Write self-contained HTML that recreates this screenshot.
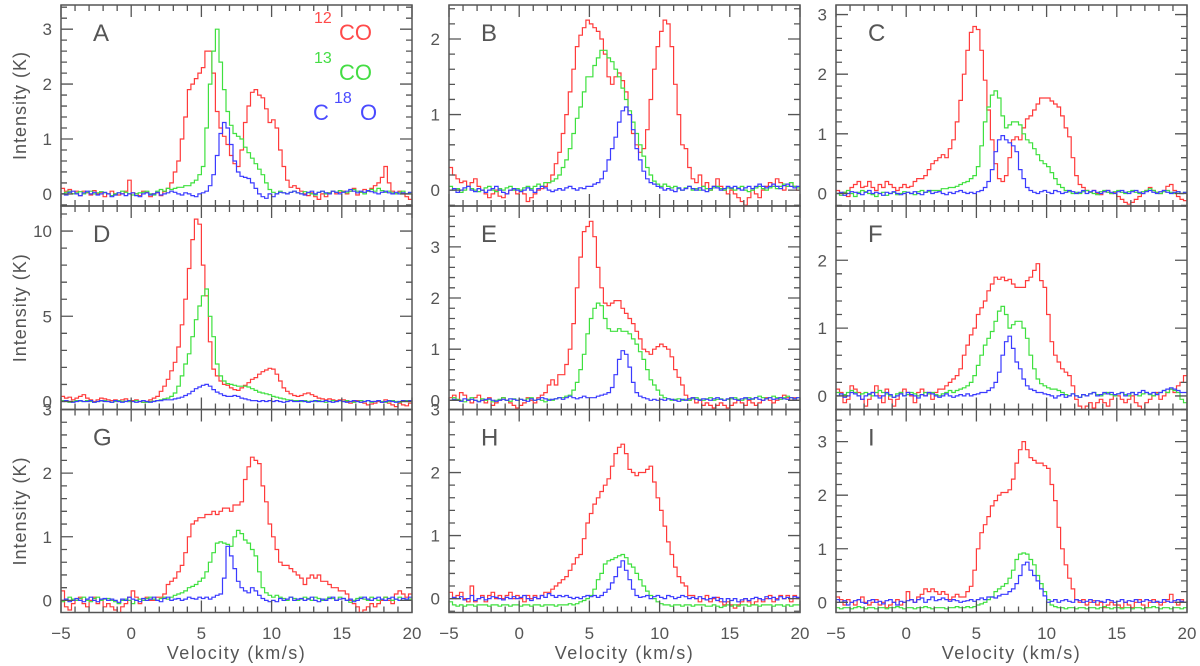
<!DOCTYPE html>
<html><head><meta charset="utf-8"><style>
html,body{margin:0;padding:0;background:#fff;}
svg{display:block;font-family:"Liberation Sans",sans-serif;}
</style></head><body>
<svg id="chart" width="1200" height="666" viewBox="0 0 1200 666" xmlns="http://www.w3.org/2000/svg">
<g id="marks"></g>
<g id="frames"></g>
<g id="labels"></g>
</svg>
<script>
// velocity axis: 100 channels of 0.25 km/s from -5 to 20
const vStart=-5, vStep=0.25;
const xTicks=[-5,0,5,10,15,20];
const xTickLabels=["\u22125","0","5","10","15","20"];
const panelLetters=["A","B","C","D","E","F","G","H","I"];
const yMins=[-0.22,-0.21,-0.21,-0.47,-0.18,-0.2,-0.19,-0.22,-0.19];
const yMaxs=[3.44,2.45,3.16,11.47,3.8,2.8,3.0,3.0,3.6];
const yMajor=[1,1,1,5,1,1,1,1,1];
const yMinor=[0.2,0.2,0.2,1,0.2,0.2,0.2,0.2,0.2];

const redA=[.1,.05,.08,0,.05,-.03,.05,.02,-.02,.06,0,.03,-.05,0,.05,0,-.02,0,.05,.25,
.02,0,-.03,.05,.03,-.05,0,.02,-.03,.04,.1,.2,.4,.6,1.0,1.4,1.9,2.0,2.1,2.2,
2.3,2.6,2.6,2.2,1.5,1.2,1.05,.9,.7,.55,.5,.8,1.3,1.6,1.85,1.9,1.8,1.75,1.55,1.3,
1.35,1.2,.8,.5,.25,.12,.15,.1,.05,0,-.03,.02,-.05,-.1,0,-.05,.02,.05,0,.03,
.05,0,.05,.1,-.02,.03,.08,.05,.1,.15,.2,.3,.5,.2,.05,0,.05,0,-.05,-.1];
const greenA=[0,.03,.05,0,.02,.04,0,.03,.05,0,.02,.04,.02,0,-.03,0,.02,.05,.03,0,
-.02,0,.02,.03,.05,0,-.02,.05,.08,.05,.1,.08,.1,.12,.12,.15,.15,.2,.25,.35,
.5,1.2,2.0,2.6,3.0,2.4,1.9,1.5,1.25,1.1,1.05,1.0,.85,.75,.65,.55,.45,.35,.2,.08,
.03,0,.05,.02,0,.03,.05,.02,0,.04,.02,0,-.02,.03,.05,0,.02,.05,.03,.06,
.04,.02,.05,.08,.05,.03,0,.05,.08,.05,.1,.06,.03,.05,.02,0,.03,.05,0,.02];
const blueA=[0,-.02,.03,.05,0,-.03,.02,.05,0,.03,-.02,0,.03,0,-.05,-.02,.02,0,-.03,0,
.02,-.03,-.05,0,.02,-.02,0,.03,-.02,0,.02,.05,.03,0,-.02,.02,0,-.03,-.05,0,
.02,.05,.15,.35,.7,1.1,1.3,1.2,.9,.6,.4,.32,.3,.28,.2,.1,0,-.05,-.08,0,
-.05,0,.03,.02,0,.03,.05,.02,0,-.02,.03,.05,0,.03,.05,.02,0,.05,.03,0,
.03,.05,.08,.05,.02,.05,.03,.06,.04,.02,0,.03,.05,.02,0,.03,0,.02,0,.03];

const redB=[.3,.2,.15,.1,.12,.05,.1,.15,.05,0,-.05,-.1,-.05,0,-.08,-.1,-.05,0,.02,-.05,
0,-.05,-.15,-.1,-.05,0,.02,.05,.1,.2,.35,.5,.75,1.0,1.3,1.6,1.9,2.05,2.15,2.25,
2.2,2.15,2.1,2.0,1.8,1.5,1.4,1.5,1.55,1.45,1.3,1.0,.75,.6,.5,.55,.8,1.2,1.6,1.9,
2.1,2.25,2.2,1.9,1.4,1.0,.6,.55,.3,.15,.1,.2,.05,.1,0,.05,.15,.05,0,-.05,
0,-.05,-.1,-.15,-.2,-.1,0,-.05,-.1,0,.05,.1,.05,.15,.1,0,.05,.1,.05,0];
const greenB=[.05,0,.02,-.03,0,.05,.02,0,-.02,0,.03,.05,0,-.02,.02,0,.03,.05,0,.02,
0,.03,.05,.02,.05,.08,.05,.1,.1,.12,.15,.2,.3,.4,.55,.75,.95,1.1,1.3,1.5,
1.5,1.65,1.75,1.85,1.85,1.75,1.7,1.6,1.5,1.35,1.2,1.05,.9,.75,.6,.45,.3,.2,.12,.08,
.05,.08,.05,.03,.05,.02,0,.03,.05,0,.02,0,.05,.02,0,.03,.05,.02,0,.03,
.02,0,.03,.05,0,-.02,0,.03,.05,.02,0,.03,.05,.02,.05,.08,.05,.1,.05,.03];
const blueB=[0,.02,-.03,0,.03,.05,0,-.02,.02,0,-.03,0,.02,.05,0,-.03,-.05,0,.02,0,
-.02,0,.03,0,-.03,.02,.05,.03,0,-.02,0,.02,0,.03,.05,.02,0,.03,.02,.05,
.05,.08,.1,.15,.25,.4,.55,.7,.9,1.05,1.1,1.0,.8,.55,.4,.25,.15,.1,.08,.05,
.03,0,.02,0,-.02,.03,0,.02,.05,.02,0,.03,0,-.02,.02,.05,.03,0,.02,.05,
.03,.05,.02,0,.03,.05,.02,.05,.08,.05,.03,.05,.08,.05,.02,.06,.08,.05,.03,.05];

const redC=[.05,0,.02,-.05,.1,.15,.2,.1,.12,.2,.1,.05,.15,.1,.2,.15,.1,.05,.1,.15,
.1,.12,.2,.25,.25,.3,.4,.5,.55,.6,.65,.6,.75,.9,1.2,1.56,2.0,2.4,2.7,2.8,
2.75,2.4,1.9,1.4,.9,.5,.25,.2,.3,.6,.9,.95,.9,1.1,1.25,1.3,1.4,1.5,1.6,1.6,
1.6,1.55,1.5,1.45,1.3,1.1,.95,.6,.3,.15,.1,.05,.02,.05,0,-.02,.03,.05,0,.02,
-.05,-.1,-.15,-.18,-.15,-.1,-.05,0,.05,.1,.05,.02,0,.05,.12,.15,.05,-.05,-.1,-.12];
const greenC=[0,-.03,.02,.05,0,-.05,.02,.05,.03,0,-.02,-.05,0,.02,-.03,0,.02,-.02,0,.03,
.02,0,-.02,.03,.05,.02,.03,.05,.05,.05,.08,.08,.1,.1,.12,.15,.18,.2,.25,.3,
.45,.8,1.2,1.45,1.65,1.72,1.6,1.3,1.1,1.15,1.2,1.2,1.15,1.0,.9,.85,.75,.65,.55,.5,
.45,.35,.25,.15,.1,.05,.03,0,.02,0,.03,.05,.02,0,-.02,.03,.05,.02,0,.03,
.05,.02,0,.03,.05,.02,0,.03,.05,.08,.05,.02,0,.03,.05,.02,0,.03,0,.02];
const blueC=[0,.02,-.03,0,.03,.02,0,-.02,.02,.05,0,.02,0,-.03,.02,0,.03,0,-.02,0,
.02,0,.03,0,-.02,.02,.05,0,.02,.03,0,-.02,.02,0,.03,.05,.02,0,.02,0,
.03,.05,.1,.2,.4,.7,.9,.97,.9,.85,.8,.7,.4,.25,.1,.05,.02,0,.03,.05,
.02,0,.05,.03,0,.02,.05,.03,0,.02,.05,0,.03,.05,.02,0,.03,.05,.02,0,
.03,.05,.02,0,.03,.05,.02,0,.03,.05,.02,0,.03,.05,.02,0,.02,.03,0,.02];

const redD=[.3,.2,.25,.1,.2,.3,.4,.2,.1,0,.1,.2,.15,.1,.05,.1,0,.1,.15,0,
.05,.1,0,-.05,0,.1,.2,.3,.6,.9,1.3,1.8,2.3,3.2,4.5,6.0,7.8,9.5,10.7,10.4,
8.0,6.2,3.5,1.9,1.5,1.2,1.0,.95,.8,.7,.65,.8,.95,1.1,1.3,1.4,1.6,1.75,1.85,1.95,
1.9,1.6,1.2,.8,.6,.45,.35,.3,.35,.45,.5,.4,.3,.2,.15,.1,.15,.1,.05,.1,
.1,0,-.1,0,.05,-.05,-.1,-.2,-.15,-.1,0,-.05,.1,-.1,-.2,-.3,-.1,-.2,-.25,-.1];
const greenD=[.05,0,-.05,0,.05,.02,0,.05,0,-.05,0,.03,.05,0,-.05,0,.05,0,.02,0,
0,.05,0,-.05,-.05,0,.02,.05,.1,.15,.2,.3,.5,.9,1.5,2.2,2.8,3.8,4.8,5.6,
6.2,6.6,5.0,3.8,2.2,1.5,1.2,1.05,1.0,.95,.9,.9,.9,.85,.75,.65,.55,.5,.45,.4,
.3,.25,.2,.15,.1,.08,.05,.05,0,.05,0,.02,0,.05,0,-.05,0,.05,0,.05,
0,.05,0,-.05,0,.05,0,.05,-.05,0,.05,0,-.05,0,.05,0,-.05,0,.05,0];
const blueD=[0,.05,0,-.05,0,.05,0,0,.05,-.05,0,.05,0,0,-.05,.05,0,-.05,0,.05,
0,-.05,0,.05,0,-.05,0,.05,.05,.1,.1,.1,.15,.2,.25,.35,.45,.6,.75,.85,
.95,1.0,.9,.7,.55,.45,.35,.3,.3,.35,.3,.2,.15,.1,.05,.05,0,.05,0,.05,
0,.05,0,-.05,0,.05,0,0,.05,0,-.05,0,.05,0,0,.05,0,-.05,0,.05,
0,-.05,0,.05,0,-.05,0,.05,0,0,.05,-.05,0,.05,0,-.05,0,.05,0,.05];

const redE=[.05,.1,0,.15,.1,0,-.05,.05,.1,0,-.05,.05,-.1,-.05,0,.05,0,-.05,-.1,-.15,
-.1,-.05,.05,0,-.05,.05,.1,.15,.3,.4,.3,.5,.5,.7,1.0,1.5,2.2,2.8,3.3,3.4,
3.5,3.2,2.6,2.2,1.9,1.85,1.9,1.95,1.95,1.8,1.7,1.6,1.5,1.35,1.2,1.0,.95,.9,1.0,1.05,
1.1,1.05,1.0,.85,.6,.45,.3,.1,0,.05,-.05,0,-.1,-.05,-.1,-.15,-.1,-.05,-.1,-.15,
-.1,-.05,0,-.05,-.1,0,-.05,-.1,-.05,0,.05,0,-.05,0,.05,.1,.05,0,.05,0];
const greenE=[0,.05,.02,0,-.03,.02,.05,0,-.02,.03,0,.02,-.03,0,.02,.05,0,-.02,.03,0,
.02,0,.03,.05,0,.02,0,-.03,.02,0,.03,.05,.05,.08,.1,.2,.35,.6,.9,1.3,
1.6,1.8,1.9,1.85,1.6,1.4,1.35,1.35,1.4,1.35,1.35,1.3,1.2,1.1,.95,.8,.6,.4,.3,.2,
.1,.05,.03,0,.02,.03,0,.02,0,.03,.05,.02,0,.03,.05,0,.02,.03,0,.02,
.03,.05,.02,0,.03,.05,.02,.05,.08,.05,.03,.05,.08,.05,.02,.05,.08,.05,.03,.05];
const blueE=[0,.02,0,-.02,.03,0,.02,0,-.03,0,.02,.03,0,-.02,0,.02,0,.03,.02,0,
.02,0,-.02,.03,0,.02,.05,.03,0,.02,.03,.05,.02,.05,.08,.05,.03,.05,.08,.05,
.05,.05,.08,.1,.12,.15,.25,.5,.8,.97,.9,.65,.35,.15,.08,.05,.03,0,.02,0,
.02,0,.03,.02,0,-.02,.02,0,.03,.05,.02,0,.03,.02,0,.03,.05,.02,0,.03,
.05,.02,0,.03,.05,.02,.03,.05,.02,0,.03,.05,.02,.03,.05,.03,.02,.05,.03,.05];

const redF=[.1,.05,-.1,-.05,.15,.1,.05,-.05,-.15,-.05,.05,.15,0,-.1,.1,-.05,-.15,-.05,.05,.1,
.05,0,-.1,.05,.1,0,.05,-.05,.05,.1,.1,.15,.2,.25,.3,.4,.6,.75,.9,1.0,
1.2,1.3,1.4,1.55,1.65,1.75,1.72,1.75,1.7,1.72,1.65,1.6,1.6,1.6,1.7,1.75,1.85,1.95,1.7,1.6,
1.2,.8,.6,.5,.4,.35,.3,.15,-.05,-.15,-.2,-.15,-.1,-.18,-.1,-.05,-.1,-.15,-.05,0,
0,-.05,-.1,-.05,0,-.1,-.15,-.2,-.1,-.05,0,.05,-.05,0,.05,.1,.05,.15,.2,.3];
const greenF=[.05,0,.02,.05,.08,.05,0,.03,.05,.02,0,.05,.08,.05,.03,0,-.02,.03,.05,0,
.02,.05,.03,0,.02,.05,.03,.05,.02,0,.03,.05,.08,.05,.08,.1,.12,.15,.2,.3,
.45,.6,.75,.85,.95,1.1,1.25,1.32,1.2,1.0,1.05,1.1,1.1,1.0,.85,.6,.4,.25,.18,.15,
.12,.1,.1,.08,.05,.02,0,.03,0,-.02,.02,0,.03,.05,.02,0,.03,.05,.02,0,
.03,.05,.02,0,.05,.02,0,.03,.05,.02,0,.03,.05,.08,.05,.1,.08,.05,-.05,-.1];
const blueF=[0,.03,-.02,0,.05,.03,0,-.05,0,.03,.05,0,-.03,0,.05,.02,-.02,0,.03,0,
.05,.02,0,-.03,.02,0,.05,.03,0,-.02,0,.03,0,-.02,0,.02,0,.03,0,.02,
.03,.05,.05,.08,.12,.2,.35,.6,.8,.88,.7,.5,.4,.25,.15,.1,.08,.05,.05,.03,
.02,0,-.03,0,.02,-.02,0,.03,0,-.02,.02,0,.03,.05,0,.02,.05,.03,.05,.02,
.03,.05,0,.03,.05,.02,.05,.08,.05,.03,.05,.02,.05,.08,.1,.12,.1,.08,.05,.05];

const redG=[.15,-.1,-.15,-.05,0,.05,-.05,-.1,0,.05,-.05,0,-.1,-.05,-.1,-.15,-.2,-.1,-.05,.05,
.15,.05,-.05,0,.05,0,0,.05,.05,.1,.25,.3,.35,.45,.55,.75,1.0,1.2,1.25,1.3,
1.3,1.35,1.35,1.4,1.35,1.4,1.45,1.45,1.4,1.5,1.5,1.55,1.9,2.1,2.25,2.2,2.15,1.8,1.55,1.2,
1.0,.8,.6,.55,.55,.5,.45,.4,.35,.25,.35,.4,.35,.4,.3,.3,.25,.2,.2,.15,
.15,.1,0,-.05,-.1,-.2,-.15,-.1,-.05,-.1,-.05,0,.05,0,-.05,.1,.15,.1,.05,.1];
const greenG=[-.02,0,.05,.02,0,.03,.05,0,-.02,.03,.05,0,.02,.03,0,-.02,-.05,0,.02,0,
-.05,0,.02,0,.03,.05,.02,0,.03,.05,.02,.05,.08,.1,.12,.15,.2,.22,.25,.3,
.35,.45,.6,.75,.9,.92,.9,.88,.85,1.0,1.1,1.05,.95,.9,.8,.7,.45,.2,.12,.08,
.05,.08,.05,.03,0,.05,.03,0,.02,.05,.03,0,.05,.03,0,.02,.05,.03,0,.05,
.03,0,-.03,0,.03,.05,.02,0,.05,.03,0,.02,.05,.03,0,.02,.05,.03,0,.02];
const blueG=[0,.02,-.02,0,.03,0,-.02,.02,.05,0,-.02,.02,.03,0,.02,0,-.03,.02,0,.05,
.02,0,-.02,.03,0,.02,.05,0,-.02,.03,.05,0,.02,.03,0,.02,.05,.03,.02,.05,
.03,.05,.02,.05,.08,.1,.35,.85,.7,.5,.3,.2,.15,.12,.2,.15,.08,.03,0,-.02,
0,-.02,.03,0,.02,.05,0,.02,.03,0,.02,.05,0,-.02,.02,0,.03,.05,0,.02,
.03,0,.02,-.02,0,.03,.05,.02,0,.03,.05,.02,0,.03,.05,.02,0,.03,.02,.05];

const redH=[.1,0,.05,.1,0,-.05,.2,-.05,0,.05,-.05,.05,.1,0,.05,0,.05,.1,0,.05,
0,-.05,.05,0,.05,0,.05,.1,.1,.15,.2,.25,.3,.35,.45,.55,.65,.7,.95,1.2,
1.35,1.5,1.6,1.7,1.8,1.9,2.1,2.3,2.4,2.45,2.3,2.05,2.0,1.95,2.0,2.0,2.05,2.1,1.85,1.6,
1.4,1.15,.9,.7,.5,.35,.25,.2,.05,.05,0,-.05,0,.05,-.05,0,.02,-.05,-.1,-.05,
-.1,-.15,-.1,-.05,0,-.05,-.1,-.05,0,-.05,0,.05,-.05,0,.05,0,.05,-.05,.05,0];
const greenH=[-.05,-.1,-.12,-.1,-.12,-.1,-.1,-.12,-.1,-.1,-.1,-.12,-.1,-.1,-.12,-.1,-.1,-.12,-.1,-.1,
-.12,-.1,-.1,-.12,-.1,-.1,-.12,-.1,-.1,-.1,-.12,-.1,-.1,-.1,-.08,-.1,-.08,-.05,-.03,0,
.05,.15,.3,.4,.55,.6,.62,.65,.68,.7,.65,.55,.5,.4,.3,.2,.12,.05,0,-.05,
-.08,-.1,-.1,-.12,-.1,-.1,-.12,-.1,-.1,-.12,-.1,-.1,-.1,-.12,-.12,-.1,-.12,-.14,-.12,-.1,
-.12,-.1,-.12,-.1,-.1,-.12,-.1,-.1,-.12,-.1,-.1,-.1,-.12,-.1,-.1,-.12,-.1,-.12,-.1,-.1];
const blueH=[0,.02,0,.03,-.02,0,.05,-.03,0,.02,-.02,0,.03,.02,0,-.02,.02,0,.03,0,
.02,.05,0,-.03,.02,0,.05,.02,.08,.05,.02,.05,.03,.05,.02,0,.02,0,.03,.05,
.03,.05,.02,.05,.1,.15,.25,.35,.5,.6,.45,.3,.15,.05,.02,.03,.05,0,.03,.05,
.02,0,.05,.03,0,.02,.05,.03,0,.02,0,.03,0,-.02,0,.02,-.03,0,-.05,0,
-.03,0,-.05,-.02,0,-.03,0,.02,0,-.02,.03,0,.02,-.02,.03,0,.02,0,.03,.02];

const redI=[.1,.05,-.05,.05,0,-.05,.05,.1,0,-.05,0,.05,-.05,0,-.1,-.05,0,.05,-.05,0,
.2,.05,0,.1,.15,.25,.2,.25,.2,.15,.2,.15,.05,.1,.15,.1,.1,.2,.3,.6,
1.0,1.3,1.45,1.6,1.8,1.9,2.0,2.05,2.05,2.1,2.3,2.6,2.85,3.0,2.85,2.7,2.65,2.6,2.6,2.55,
2.5,2.2,1.9,1.4,1.0,.7,.45,.25,.05,0,.05,-.05,0,.03,-.05,0,-.1,-.05,0,-.05,
-.05,-.1,0,-.05,-.1,0,.05,-.05,-.1,0,.05,0,-.05,0,.05,.15,0,-.05,.05,0];
const greenI=[-.1,-.12,-.1,-.1,-.12,-.1,-.08,-.1,-.12,-.1,-.1,-.12,-.1,-.1,-.12,-.1,-.1,-.08,-.1,-.12,
-.1,-.1,-.12,-.1,-.1,-.08,-.1,-.12,-.1,-.1,-.1,-.12,-.1,-.1,-.08,-.1,-.1,-.08,-.1,-.08,
-.05,-.03,0,.05,.1,.2,.25,.3,.35,.45,.6,.8,.9,.92,.9,.8,.7,.5,.35,.2,
.05,-.05,-.08,-.1,-.1,-.12,-.1,-.1,-.12,-.1,-.1,-.12,-.1,-.1,-.12,-.1,-.08,-.1,-.12,-.1,
-.1,-.12,-.1,-.1,-.12,-.1,-.1,-.12,-.1,-.1,-.08,-.1,-.12,-.1,-.1,-.12,-.1,-.1,-.12,-.1];
const blueI=[.05,0,.03,-.05,0,.03,.05,0,-.02,.03,.05,0,.02,-.03,.03,.05,0,-.05,.02,0,
.03,.05,0,.05,.08,0,.05,.1,.03,.05,.08,.05,.02,.05,.03,0,.02,.03,.05,.02,
.05,.08,.05,.1,.1,.08,.12,.15,.15,.2,.25,.35,.5,.7,.75,.6,.5,.4,.25,.12,
0,.02,.05,0,.03,.05,.02,0,.05,.03,0,.02,.05,0,.03,.02,0,.05,.03,0,
.02,.05,0,.03,.02,.05,0,.02,.05,.03,0,.02,0,.05,.02,0,.03,.05,.02,0];

const redSeries=[redA,redB,redC,redD,redE,redF,redG,redH,redI];
const greenSeries=[greenA,greenB,greenC,greenD,greenE,greenF,greenG,greenH,greenI];
const blueSeries=[blueA,blueB,blueC,blueD,blueE,blueF,blueG,blueH,blueI];

const NS="http://www.w3.org/2000/svg";
const colLeft=[61,449,836], colRight=[412,800,1187];
const rowTop=[5,206,409.5], rowBottom=[206,409.5,612.5];
const AX="#555";
const marks=document.getElementById('marks'),frames=document.getElementById('frames'),labels=document.getElementById('labels');
function mk(tag,attrs,parent){const e=document.createElementNS(NS,tag);for(const k in attrs)e.setAttribute(k,attrs[k]);parent.appendChild(e);return e;}

for(let p=0;p<9;p++){
  const c=p%3,r=Math.floor(p/3);
  const L=colLeft[c],R=colRight[c],T=rowTop[r],B=rowBottom[r];
  const xs=v=>L+(v-vStart)/25*(R-L);
  const ys=y=>B-(y-yMins[p])/(yMaxs[p]-yMins[p])*(B-T);
  const g=mk('g',{'clip-path':'url(#clip'+p+')'},marks);
  
  
  const cp=mk('clipPath',{id:'clip'+p},marks);
  mk('rect',{x:L,y:T,width:R-L,height:B-T},cp);
  const sets=[[redSeries[p],'#ff3b3b','12co'],[greenSeries[p],'#3fe03f','13co'],[blueSeries[p],'#3b3bff','c18o']];
  for(const [arr,col,nm] of sets){
    let d='';
    for(let i=0;i<arr.length;i++){
      const x0=xs(vStart+i*vStep),x1=xs(vStart+(i+1)*vStep),y=ys(arr[i]);
      d+=(i===0?'M':'L')+x0.toFixed(1)+','+y.toFixed(1)+'L'+x1.toFixed(1)+','+y.toFixed(1);
    }
    const path=mk('path',{d:d,fill:'none',stroke:col,'stroke-width':1.2},g);
    
    
  }
  // frame
  const fr=mk('rect',{x:L,y:T,width:R-L,height:B-T,fill:'none',stroke:AX,'stroke-width':1.5},frames);
  
  
  // x ticks
  let td='';
  for(let v=-5;v<=20.001;v+=1){
    const len=(Math.round(v)%5===0)?12:6;const x=xs(v);
    td+='M'+x+','+B+'v'+(-len)+'M'+x+','+T+'v'+len;
  }
  // y ticks
  const nMin=Math.ceil(yMins[p]/yMinor[p]-1e-6);
  for(let k=nMin;k*yMinor[p]<=yMaxs[p]+1e-9;k++){
    const y=k*yMinor[p];const ratio=y/yMajor[p];
    const isMaj=Math.abs(ratio-Math.round(ratio))<1e-6;
    const len=isMaj?12:6;const yy=ys(y);
    td+='M'+L+','+yy+'h'+len+'M'+R+','+yy+'h'+(-len);
  }
  const tk=mk('path',{d:td,stroke:AX,'stroke-width':1.3,fill:'none'},frames);
  
  
  // y tick labels
  for(let y=0;y<=yMaxs[p]+1e-9;y+=yMajor[p]){
    const t=mk('text',{x:L-9,y:ys(y)+6,'text-anchor':'end','font-size':17,fill:'#555'},labels);
    t.textContent=String(y);
    
    
  }
  // panel letter
  const pl=mk('text',{x:L+32,y:T+36,'font-size':24,fill:'#555'},labels);
  pl.textContent=panelLetters[p];
  
  
  // x tick labels on bottom row
  if(r===2){
    for(let k=0;k<xTicks.length;k++){
      const t=mk('text',{x:xs(xTicks[k]),y:639,'text-anchor':'middle','font-size':17,fill:'#555'},labels);
      t.textContent=xTickLabels[k];
      
      
    }
    const xt=mk('text',{x:(L+R)/2,y:659,'text-anchor':'middle','font-size':18,fill:'#555','letter-spacing':1.5},labels);
    xt.textContent='Velocity (km/s)';
    
    
  }
  if(c===0){
    const cy=(T+B)/2;
    const yt=mk('text',{x:26,y:cy,'text-anchor':'middle','font-size':18,fill:'#555','letter-spacing':1,transform:'rotate(-90 26 '+cy+')'},labels);
    yt.textContent='Intensity (K)';
    
    
  }
}
// legend
const lg=mk('g',{},labels);


const legendItems=[
 [[['12',314,23,16],['CO',339,40,22]],'#ff4a4a','legend-12co'],
 [[['13',314,63,16],['CO',339,80,22]],'#44dd44','legend-13co'],
 [[['C',313,120,22],['18',334,103,16],['O',360,120,22]],'#4a4aff','legend-c18o']];
for(const [parts,col,nm] of legendItems){
  const t=mk('text',{fill:col},lg);
  
  
  for(const [s,x,y,fs] of parts){const ts=mk('tspan',{x:x,y:y,'font-size':fs},t);ts.textContent=s;}
}
</script>
</body></html>
